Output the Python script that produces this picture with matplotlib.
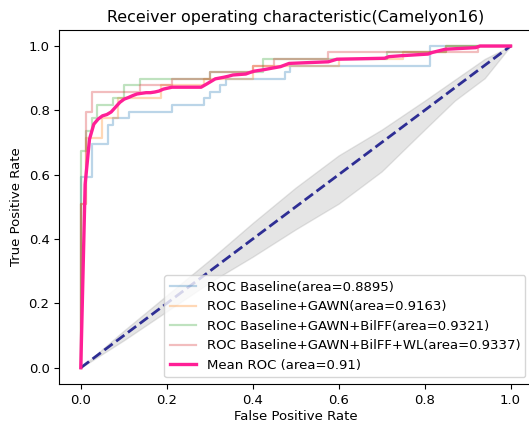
import numpy as np
import matplotlib
matplotlib.use("Agg")
import matplotlib.pyplot as plt

# ---- data ----
labels = ["ROC Baseline(area=0.8895)",
          "ROC Baseline+GAWN(area=0.9163)",
          "ROC Baseline+GAWN+BilFF(area=0.9321)",
          "ROC Baseline+GAWN+BilFF+WL(area=0.9337)"]

fpr_base = [0, 0, 0.025, 0.025, 0.0625, 0.0625, 0.075, 0.075, 0.1125, 0.1125, 0.2125, 0.2125,
            0.2875, 0.2875, 0.3, 0.3, 0.325, 0.325, 0.3375, 0.3375, 0.475, 0.475, 0.4875, 0.4875,
            0.8125, 0.8125, 1.0]
tpr_base = [0, 0.592, 0.592, 0.694, 0.694, 0.755, 0.755, 0.776, 0.776, 0.796, 0.796, 0.816,
            0.816, 0.837, 0.837, 0.857, 0.857, 0.878, 0.878, 0.898, 0.898, 0.918, 0.918, 0.939,
            0.939, 1.0, 1.0]

fpr_gawn = [0, 0, 0.0125, 0.0125, 0.05, 0.05, 0.0875, 0.0875, 0.1875, 0.1875, 0.2875, 0.2875,
            0.4, 0.4, 0.6, 0.6, 0.75, 0.75, 0.85, 0.85, 1.0]
tpr_gawn = [0, 0.51, 0.51, 0.714, 0.714, 0.776, 0.776, 0.837, 0.837, 0.878, 0.878, 0.898,
            0.898, 0.939, 0.939, 0.959, 0.959, 0.98, 0.98, 1.0, 1.0]

fpr_bilff = [0, 0, 0.0125, 0.0125, 0.025, 0.025, 0.0375, 0.0375, 0.075, 0.075, 0.1, 0.1,
             0.1375, 0.1375, 0.3, 0.3, 0.425, 0.425, 0.7125, 0.7125, 0.85, 0.85, 1.0]
tpr_bilff = [0, 0.673, 0.673, 0.735, 0.735, 0.776, 0.776, 0.816, 0.816, 0.837, 0.837, 0.878,
             0.878, 0.898, 0.898, 0.918, 0.918, 0.959, 0.959, 0.98, 0.98, 1.0, 1.0]

fpr_wl = [0, 0, 0.0125, 0.0125, 0.025, 0.025, 0.1375, 0.1375, 0.2125, 0.2125, 0.3, 0.3,
          0.4, 0.4, 0.45, 0.45, 0.575, 0.575, 0.925, 0.925, 1.0]
tpr_wl = [0, 0.51, 0.51, 0.796, 0.796, 0.857, 0.857, 0.878, 0.878, 0.898, 0.898, 0.918,
          0.918, 0.939, 0.939, 0.959, 0.959, 0.98, 0.98, 1.0, 1.0]

mean_label = "Mean ROC (area=0.91)"
mean_fpr = [0, 0.0101, 0.0202, 0.0303, 0.0404, 0.0505, 0.0606, 0.0707, 0.0808, 0.0909, 0.101,
            0.111, 0.121, 0.131, 0.141, 0.152, 0.162, 0.172, 0.182, 0.192, 0.202, 0.212, 0.28,
            0.293, 0.303, 0.313, 0.333, 0.343, 0.354, 0.384, 0.394, 0.404, 0.424, 0.444, 0.465,
            0.485, 0.576, 0.596, 0.707, 0.717, 0.747, 0.808, 0.818, 0.848, 0.919, 0.929, 1.0]
mean_tpr = [0, 0.57, 0.71, 0.757, 0.773, 0.783, 0.787, 0.795, 0.81, 0.825, 0.835, 0.84, 0.846,
            0.851, 0.853, 0.855, 0.855, 0.857, 0.86, 0.866, 0.869, 0.872, 0.872, 0.882, 0.89,
            0.898, 0.903, 0.906, 0.91, 0.913, 0.918, 0.922, 0.926, 0.931, 0.936, 0.946, 0.951,
            0.959, 0.962, 0.967, 0.97, 0.975, 0.98, 0.99, 0.995, 1.0, 1.0]

band_x = [0, 0.1, 0.2, 0.3, 0.4, 0.5, 0.6, 0.7, 0.8, 0.87, 0.94, 1.0]
band_hi = [0, 0.115, 0.225, 0.335, 0.45, 0.56, 0.66, 0.74, 0.83, 0.895, 0.96, 1.0]
band_lo = [0, 0.085, 0.175, 0.265, 0.345, 0.43, 0.51, 0.61, 0.74, 0.83, 0.9, 1.0]

chance = [0, 1]

# ---- figure ----
fig = plt.figure(figsize=(5.29, 4.23), dpi=100)
ax = fig.add_axes([0.1121, 0.0927, 0.8936, 0.8365])

colors = ["#1f77b4", "#ff7f0e", "#2ca02c", "#d62728"]
curves = [(fpr_base, tpr_base), (fpr_gawn, tpr_gawn), (fpr_bilff, tpr_bilff), (fpr_wl, tpr_wl)]
for (f, t), c, lab in zip(curves, colors, labels):
    ax.plot(f, t, color=c, lw=1.6, alpha=0.3, label=lab)

ax.plot(chance, chance, linestyle="--", lw=2, color="navy", alpha=0.8)
ax.plot(mean_fpr, mean_tpr, color="#ff1f96", lw=2.4, label=mean_label)
ax.fill_between(band_x, band_lo, band_hi, color="grey", alpha=0.2)

ax.set_xlim(-0.05, 1.05)
ax.set_ylim(-0.05, 1.05)
fs = 9.5
ax.set_xlabel("False Positive Rate", fontsize=fs, labelpad=2.5)
ax.set_ylabel("True Positive Rate", fontsize=fs)
ax.set_title("Receiver operating characteristic(Camelyon16)", fontsize=11.4)
ax.tick_params(labelsize=fs)
ax.legend(loc="lower right", fontsize=fs)

fig.savefig("out.png", dpi=100)
